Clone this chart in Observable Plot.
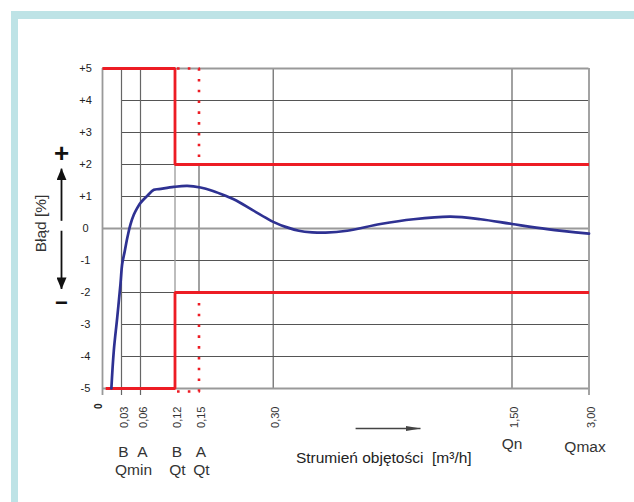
<!DOCTYPE html>
<html><head><meta charset="utf-8">
<script src="https://cdn.jsdelivr.net/npm/d3@7"></script>
<script src="https://cdn.jsdelivr.net/npm/@observablehq/plot@0.6"></script>
<style>
html,body{margin:0;padding:0;background:#fff;width:634px;height:502px;overflow:hidden;}
#wrap{position:relative;width:634px;height:502px;}
#chart{position:absolute;left:0;top:0;}
#frame{position:absolute;left:11px;top:11px;right:-20px;bottom:-20px;border-left:7.5px solid #bee3e6;border-top:8px solid #bee3e6;pointer-events:none;}
</style></head><body><div id="wrap"><div id="chart"></div><div id="frame"></div></div>
<script>
// ---- data ----
const flowTicks = [0, 0.03, 0.06, 0.12, 0.15, 0.30, 1.50, 3.00];
const flowTickLabels = ["0", "0,03", "0,06", "0,12", "0,15", "0,30", "1,50", "3,00"];
const errorTicks = [5, 4, 3, 2, 1, 0, -1, -2, -3, -4, -5];
const errorTickLabels = ["+5", "+4", "+3", "+2", "+1", "0", "-1", "-2", "-3", "-4", "-5"];
const classFlows = [0.03, 0.06, 0.12, 0.15];
const classLetters = ["B", "A", "B", "A"];
const qNames = ["Qmin", "Qt", "Qt"];
const qFlows = [0.045, 0.12, 0.15];
const qTopNames = ["Qn", "Qmax"];
const qTopFlows = [1.50, 3.00];

const curveFlow = [0.014, 0.0178, 0.0232, 0.0284, 0.0311, 0.0352, 0.0395, 0.0442, 0.0494, 0.0545, 0.06, 0.0717, 0.0833, 0.092, 0.1179, 0.1353, 0.153, 0.1767, 0.2036, 0.2305, 0.2576, 0.2845, 0.303, 0.362, 0.429, 0.496, 0.563, 0.672, 0.839, 1.005, 1.191, 1.342, 1.50, 2.186, 3.00];
const curveError = [-5.0, -3.83, -2.79, -1.73, -1.11, -0.70, -0.26, 0.13, 0.43, 0.63, 0.80, 1.02, 1.21, 1.23, 1.30, 1.33, 1.28, 1.18, 1.02, 0.83, 0.58, 0.34, 0.20, 0.05, -0.07, -0.12, -0.13, -0.07, 0.14, 0.29, 0.37, 0.29, 0.14, -0.02, -0.16];

const limitBUpperFlow = [0, 0.12, 0.12, 3.00];
const limitBUpper = [5, 5, 2, 2];
const limitBLowerFlow = [0.005, 0.12, 0.12, 3.00];
const limitBLower = [-5, -5, -2, -2];
const limitAFlow = [0.12, 0.15, 0.15];
const limitAUpper = [5, 5, 2];
const limitALower = [-5, -5, -2];

const signArrowFrom = [0.24, -0.07];
const signArrowTo = [1.87, -1.89];
const flowArrowFrom = 0.714;
const flowArrowTo = 1.04;

// ---- helpers ----
const pts = (xs, ys) => xs.map((x, i) => ({x, y: ys[i]}));
function solidHead(len, half) {
  return (color) => {
    const ns = "http://www.w3.org/2000/svg";
    const m = document.createElementNS(ns, "marker");
    m.setAttribute("viewBox", `0 ${-half} ${len} ${2 * half}`);
    m.setAttribute("markerWidth", len);
    m.setAttribute("markerHeight", 2 * half);
    m.setAttribute("markerUnits", "userSpaceOnUse");
    m.setAttribute("refX", len - 0.5);
    m.setAttribute("refY", 0);
    m.setAttribute("orient", "auto");
    const p = document.createElementNS(ns, "path");
    p.setAttribute("d", `M0,${-half}L${len},0L0,${half}Z`);
    p.setAttribute("fill", color);
    p.setAttribute("stroke", "none");
    m.appendChild(p);
    return m;
  };
}

const red = "#ed1c24";
const font = "'Liberation Sans', Arial, Helvetica, sans-serif";

const chart = Plot.plot({
  width: 634,
  height: 502,
  marginTop: 68,
  marginBottom: 114,
  marginLeft: 102,
  marginRight: 45.5,
  x: {type: "linear", domain: flowTicks, range: [102, 121, 140, 174.5, 198.5, 272.7, 511.5, 588.5], axis: null},
  y: {domain: [-5, 5], axis: null},
  style: {fontFamily: font, background: "transparent", overflow: "visible"},
  marks: [
    // grid
    Plot.ruleY(errorTicks.filter(d => Math.abs(d) !== 5 && d !== 0), {x1: flowTicks[1], x2: flowTicks[7], stroke: "#555", strokeWidth: 1.1}),
    Plot.ruleX([0.30, 1.50], {stroke: "#555", strokeWidth: 1.1}),
    Plot.ruleX([0.15], {y1: -2, y2: 2, stroke: "#555", strokeWidth: 1.1}),
    Plot.ruleX([0.12], {stroke: "#9a9a9a", strokeWidth: 1.3}),
    Plot.ruleX([0.03, 0.06], {stroke: "#666", strokeWidth: 1.2, insetBottom: -7}),
    Plot.ruleY([0], {x1: 0, x2: 3.0, stroke: "#9a9a9a", strokeWidth: 1.8}),
    Plot.ruleY([5, -5], {x1: 0, x2: 3.0, stroke: "#999", strokeWidth: 1.8}),
    Plot.ruleX([0, 3.0], {stroke: "#999", strokeWidth: 1.8, insetBottom: -7}),

    // limits
    Plot.line(pts(limitAFlow, limitAUpper), {x: "x", y: "y", stroke: red, strokeWidth: 2.6, strokeLinecap: "butt", strokeDasharray: "2.6 8.2", strokeDashoffset: -2}),
    Plot.line(pts(limitAFlow, limitALower), {x: "x", y: "y", stroke: red, strokeWidth: 2.6, strokeLinecap: "butt", strokeDasharray: "2.6 8.2", strokeDashoffset: -2, dy: 3}),
    Plot.line(pts(limitBUpperFlow, limitBUpper), {x: "x", y: "y", stroke: red, strokeWidth: 2.8, strokeLinejoin: "miter", strokeLinecap: "butt"}),
    Plot.line(pts(limitBLowerFlow, limitBLower), {x: "x", y: "y", stroke: red, strokeWidth: 2.8, strokeLinejoin: "miter", strokeLinecap: "butt"}),

    // error curve
    Plot.line(pts(curveFlow, curveError), {x: "x", y: "y", stroke: "#2e3192", strokeWidth: 2.7, curve: "catmull-rom"}),

    // y tick labels
    Plot.text(errorTickLabels, {x: 0, y: errorTicks, text: d => d, dx: -17, textAnchor: "middle", fontSize: 11, fill: "#222"}),
    // x tick labels
    Plot.text(flowTickLabels.slice(1), {x: flowTicks.slice(1), y: -5, text: d => d, rotate: -90, textAnchor: "end", dy: 18, dx: 2.5, fontSize: 11, fill: "#333"}),
    Plot.text([flowTickLabels[0]], {x: flowTicks[0], y: -5, text: d => d, rotate: -90, textAnchor: "end", dy: 15, dx: -4, fontSize: 10, fontWeight: "bold", fill: "#222"}),

    // class letters and flow names
    Plot.text(classLetters, {x: classFlows, y: -5, text: d => d, dx: 2, dy: 63.5, fontSize: 15.5, fill: "#333"}),
    Plot.text(qNames, {x: qFlows, y: -5, text: d => d, dx: 2.5, dy: 82, fontSize: 15.5, fill: "#333"}),
    Plot.text([qTopNames[0]], {x: qTopFlows[0], y: -5, text: d => d, dy: 56, fontSize: 15.5, fill: "#333"}),
    Plot.text([qTopNames[1]], {x: qTopFlows[1], y: -5, text: d => d, dx: -4, dy: 59, fontSize: 15.5, fill: "#333"}),

    // axis titles
    Plot.text(["Strumień objętości \u00a0[m³/h]"], {frameAnchor: "bottom", textAnchor: "middle", lineAnchor: "middle", dx: 38, dy: 70, fontSize: 15.5, fill: "#222"}),
    Plot.text(["Błąd [%]"], {frameAnchor: "left", textAnchor: "middle", lineAnchor: "middle", dx: -61, dy: -5, rotate: -90, fontSize: 15.5, fill: "#333"}),
    Plot.text(["+"], {frameAnchor: "left", textAnchor: "middle", lineAnchor: "middle", dx: -41, dy: -75, fontSize: 26, fontWeight: "bold", fill: "#111"}),
    Plot.text(["−"], {frameAnchor: "left", textAnchor: "middle", lineAnchor: "middle", dx: -41, dy: 74, fontSize: 22, fontWeight: "bold", fill: "#111"}),

    // arrows
    Plot.link([0, 1], {x1: 0, x2: 0, y1: (d, i) => signArrowFrom[i], y2: (d, i) => signArrowTo[i], dx: -41, stroke: "#111", strokeWidth: 1.8, markerEnd: solidHead(12, 5)}),
    Plot.link([0], {x1: flowArrowFrom, x2: flowArrowTo, y1: -5, y2: -5, dy: 40, stroke: "#444", strokeWidth: 1.6, markerEnd: solidHead(15, 2.5)})
  ]
});
document.getElementById("chart").appendChild(chart);
</script>
</body></html>
